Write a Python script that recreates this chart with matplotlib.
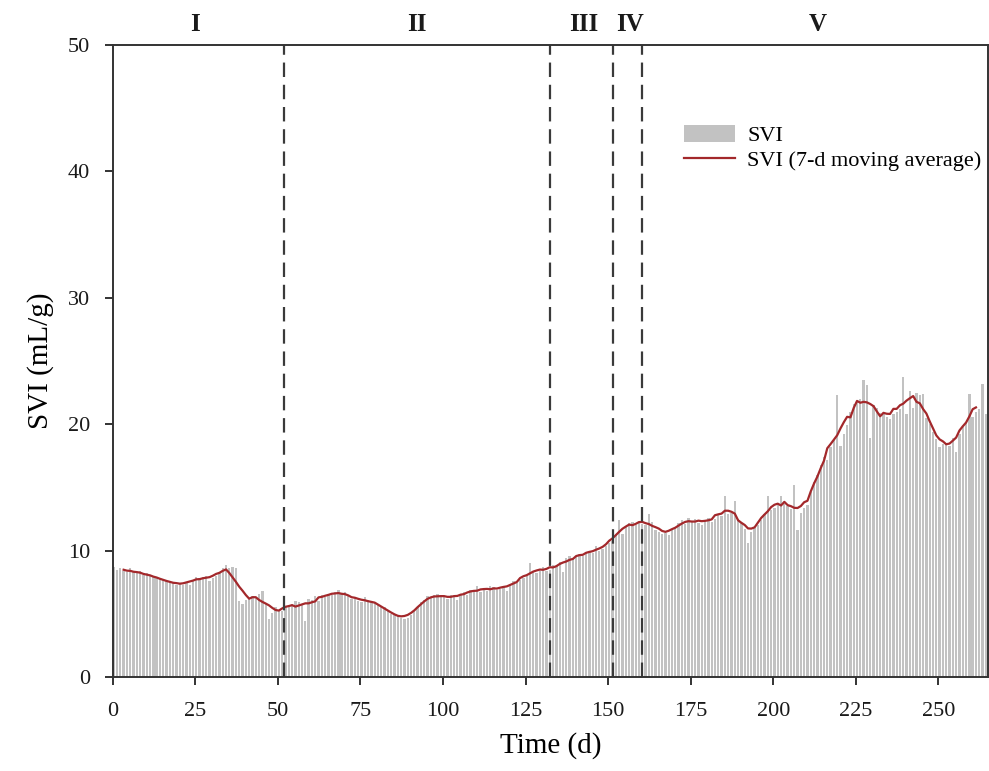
import numpy as np
import pandas as pd
import matplotlib
matplotlib.use("Agg")
import matplotlib.pyplot as plt
from matplotlib.patches import Patch
from matplotlib.lines import Line2D

plt.rcParams['font.family'] = ['Liberation Serif', 'DejaVu Serif']

# Daily SVI values (mL/g), day 0 .. 264
svi = [
    8.7, 8.5, 8.6, 8.4, 8.3, 8.6, 8.3, 8.2, 8.4, 8.1,
    8.2, 8.0, 7.9, 7.9, 7.8, 7.7, 7.6, 7.5, 7.4, 7.3,
    7.4, 7.3, 7.5, 7.3, 7.7, 7.9, 7.8, 7.9, 8.0, 7.6,
    7.8, 8.0, 8.2, 8.6, 8.9, 8.6, 8.7, 8.6, 6.0, 5.8,
    6.1, 6.2, 6.4, 6.3, 6.6, 6.8, 5.8, 4.6, 5.1, 5.5,
    5.3, 5.2, 5.6, 5.5, 5.8, 6.0, 5.9, 5.8, 4.4, 6.2,
    6.1, 6.4, 6.0, 6.5, 6.3, 6.6, 6.5, 6.7, 6.9, 6.6,
    6.7, 6.5, 6.2, 6.3, 6.0, 5.9, 6.3, 6.1, 6.0, 5.9,
    5.8, 5.6, 5.5, 5.2, 5.0, 4.9, 4.8, 4.7, 4.6, 4.7,
    4.9, 5.2, 5.5, 5.9, 6.1, 6.4, 6.3, 6.5, 6.6, 6.3,
    6.4, 6.2, 6.5, 6.3, 6.1, 6.6, 6.7, 6.5, 6.9, 6.8,
    7.2, 6.7, 6.9, 6.8, 7.2, 7.1, 6.9, 7.0, 7.2, 6.8,
    7.3, 7.6, 7.4, 7.7, 7.8, 8.0, 9.0, 8.3, 8.2, 8.4,
    8.7, 8.4, 8.5, 8.9, 8.8, 9.1, 8.3, 9.4, 9.6, 9.3,
    9.5, 9.7, 9.6, 9.9, 9.9, 9.8, 10.4, 10.0, 10.1, 10.4,
    10.6, 10.8, 11.2, 12.4, 11.3, 11.9, 12.2, 12.3, 12.0, 12.3,
    12.1, 12.0, 12.9, 12.3, 11.6, 11.5, 11.3, 11.4, 11.2, 11.6,
    11.8, 12.2, 12.4, 12.1, 12.6, 12.3, 12.5, 12.2, 12.0, 12.4,
    12.6, 12.3, 12.5, 12.8, 12.7, 14.3, 12.9, 13.0, 13.9, 12.5,
    12.2, 11.7, 10.6, 11.5, 11.8, 12.0, 12.4, 12.9, 14.3, 13.2,
    13.4, 13.6, 14.3, 13.7, 13.5, 13.3, 15.2, 11.6, 13.0, 13.4,
    13.6, 14.6, 15.4, 16.0, 16.8, 17.4, 17.2, 18.2, 18.8, 22.3,
    18.3, 19.2, 19.9, 21.0, 21.6, 21.8, 22.0, 23.5, 23.1, 18.9,
    21.5, 21.3, 20.9, 20.8, 20.6, 20.4, 20.8, 21.0, 21.2, 23.7,
    20.8, 22.6, 21.3, 22.5, 22.3, 22.4, 20.5, 20.0, 19.4, 18.8,
    18.2, 18.4, 18.5, 18.3, 18.9, 17.8, 19.2, 19.8, 20.1, 22.4,
    20.6, 21.0, 21.2, 23.2, 20.8,
]
days = list(range(len(svi)))

# Phase boundaries (d) and phase labels
phase_bounds = [52, 132.5, 151.5, 160.3]
phase_names = ['I', 'II', 'III', 'IV', 'V']
phase_label_x = [25, 92, 142.5, 156.5, 213.5]

x_ticks = [0, 25, 50, 75, 100, 125, 150, 175, 200, 225, 250]
y_ticks = [0, 10, 20, 30, 40, 50]

ma = pd.Series(svi).rolling(7, center=True).mean()

fig = plt.figure(figsize=(9.89, 7.71), dpi=100)
ax = fig.add_axes([0.1138, 0.1219, 0.8852, 0.8197])

bar_color = '#c2c2c2'
line_color = '#a3282b'

ax.bar(days, svi, width=0.7, align='edge', color=bar_color, linewidth=0)
ax.plot(np.array(days) + 0.35, ma, color=line_color, lw=1.6)

for b in phase_bounds:
    ax.axvline(b, color='#3a3a3a', lw=1.6, linestyle=(0, (6.5, 3.5)))

ax.set_xlim(0, 265)
ax.set_ylim(0, 50)
ax.set_xticks(x_ticks)
ax.set_yticks(y_ticks)

for s in ax.spines.values():
    s.set_color('#333333')
    s.set_linewidth(1.4)

ax.tick_params(axis='both', direction='out', length=6, width=1.4, color='#333333',
               labelsize=16, labelcolor='#1a1a1a')
ax.tick_params(axis='x', pad=12)
ax.tick_params(axis='y', pad=10)

ax.set_xlabel('Time (d)', fontsize=21, labelpad=8)
ax.set_ylabel('SVI (mL/g)', fontsize=21, labelpad=10)

trans = ax.get_xaxis_transform()
for xl, name in zip(phase_label_x, phase_names):
    ax.text(xl, 1.033, name, transform=trans, ha='center', va='center',
            fontsize=18, fontweight='bold', color='#1a1a1a')

handles = [Patch(facecolor=bar_color, edgecolor='none'),
           Line2D([0], [0], color=line_color, lw=1.6)]
fig.legend(handles, ['SVI', 'SVI (7-d moving average)'],
           loc='upper left', bbox_to_anchor=(0.6916, 0.838),
           frameon=False, fontsize=16, borderpad=0, borderaxespad=0,
           handlelength=2.3, handleheight=0.8, handletextpad=0.55,
           labelspacing=0.15)

fig.savefig('out.png', dpi=100)
